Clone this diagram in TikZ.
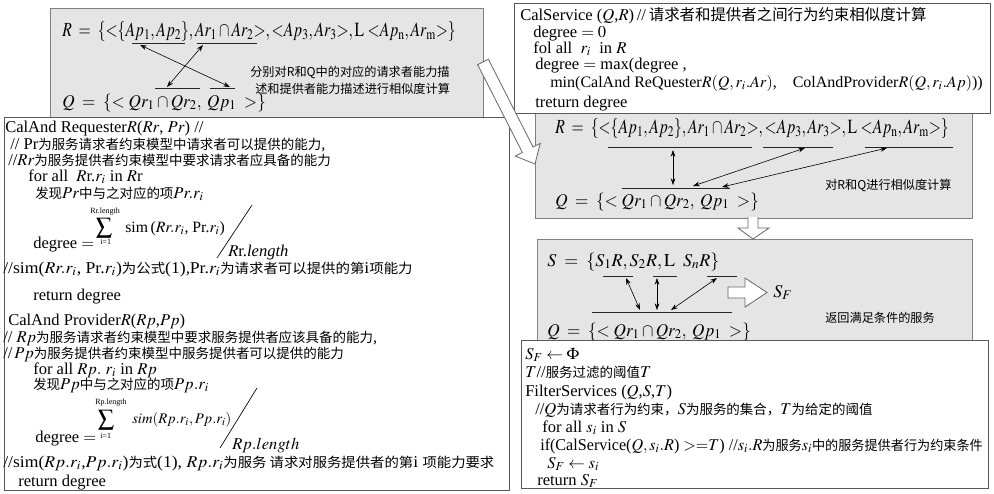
\documentclass[tikz,border=0pt]{standalone}
\usepackage{graphicx}
\usepackage{mathptmx}
\usepackage{fontspec}
\setmainfont{Liberation Serif}
\newfontfamily\cjk[Scale=0.815]{Noto Sans CJK SC}
\usetikzlibrary{arrows.meta,calc}
\newcommand\zh[1]{{\cjk #1}}
\newcommand\Rform{{\fontsize{15}{17}\selectfont\scalebox{0.78}[1]{$R\;=\;\{{<}\{Ap_1,Ap_2\},Ar_1\cap Ar_2{>},{<}Ap_3,Ar_3{>},\mathrm{L}\;{<}Ap_{\mathrm n},Ar_{\mathrm m}{>}\}$}}}
\newcommand\Qform{\scalebox{0.95}[1]{$Q\;=\;\{{<}\;Qr_1\cap Qr_2,\;Qp_1\;\;{>}\}$}}
\begin{document}
\begin{tikzpicture}[x=0.75pt,y=-0.75pt,
  graybox/.style={draw=black!50, fill=black!10, line width=0.6pt},
  whitebox/.style={draw=black!65, fill=white, line width=0.6pt},
  ln/.style={anchor=base west, inner sep=0pt, font=\fontsize{12.4}{14}\selectfont},
  fm/.style={anchor=base west, inner sep=0pt, font=\fontsize{13.5}{16}\selectfont},
  nt/.style={anchor=base west, inner sep=0pt, font=\fontsize{11.2}{13}\selectfont\cjk},
  tinyt/.style={anchor=base west, inner sep=0pt, font=\fontsize{6}{7}\selectfont},
  sumt/.style={anchor=center, inner sep=0pt, font=\fontsize{12}{13}\selectfont},
  ul/.style={line width=0.5pt, draw=black!85},
  dbl/.style={{Stealth[length=5pt,width=3.5pt]}-{Stealth[length=5pt,width=3.5pt]}, line width=0.45pt},
  hollow/.style={draw=black!60, fill=white, line width=0.6pt, line join=miter}]
\useasboundingbox (0,0) rectangle (994,493);

% ---------- top-left gray box ----------
\draw[graybox] (50,8) rectangle (483,118);
\node[fm] (r1) at (62,36) {\Rform};
\node[fm] (q1) at (62,107) {\Qform};
\node[nt] (n1a) at (250,76) {分别对R和Q中的对应的请求者能力描};
\node[nt] (n1b) at (255,93) {述和提供者能力描述进行相似度计算};
\draw[ul] (132,43) -- (185,43);
\draw[ul] (197,43) -- (257,43);
\draw[ul] (155,88) -- (200,88);
\draw[ul] (210,88) -- (235,88);
\coordinate (u1a) at (140,45); \coordinate (u1b) at (230,87);
\coordinate (u2a) at (203,45); \coordinate (u2b) at (167,87);
\draw[dbl] (u1a) -- (u1b);
\draw[dbl] (u2a) -- (u2b);

% ---------- right gray box 2 ----------
\draw[graybox] (535,113) rectangle (972,218);
% ---------- CalService box ----------
\draw[whitebox] (514,3) rectangle (990,113);
\node[ln] (c1) at (520,20) {CalService\ ($Q$,$R$)\,//\,{\fontsize{14.2}{16}\selectfont\zh{请求者和提供者之间行为约束相似度计算}}};
\node[ln] (c2) at (533,37) {degree $=0$};
\node[ln] (c3) at (533,53) {fol all \ $r_i$ \ in $R$};
\node[ln] (c4) at (535,69) {degree $=$ max(degree ,};
\node[ln, font=\fontsize{12}{14}\selectfont] (c5) at (550,87) {min(CalAnd ReQuester$R(Q,r_i.Ar)$,\quad ColAndProvider$R(Q,r_i.Ap)$))};
\node[ln] (c6) at (535,107) {treturn degree};

\node[fm] (r2) at (555,133) {\Rform};
\node[fm] (q2) at (555,206) {\Qform};
\node[nt] (n2) at (825,189) {对R和Q进行相似度计算};
\draw[ul] (608,147) -- (752,147);
\draw[ul] (763,147) -- (833,147);
\draw[ul] (865,147) -- (953,147);
\draw[ul] (622,188) -- (730,188);
\coordinate (v1a) at (673,150); \coordinate (v1b) at (673,185);
\coordinate (v2a) at (805,148); \coordinate (v2b) at (693,186);
\coordinate (v3a) at (887,148); \coordinate (v3b) at (722,187);
\draw[dbl] (v1a) -- (v1b);
\draw[dbl] (v2a) -- (v2b);
\draw[dbl] (v3a) -- (v3b);

% down hollow arrow
\draw[hollow] (748,217) -- (748,228) -- (738,228) -- (753,239) -- (769,228) -- (758,228) -- (758,217);

% ---------- gray box 3 ----------
\draw[graybox] (537,239) rectangle (972,345);
\node[fm] (s3) at (547,266) {$S\;=\;\{S_1R,S_2R,\mathrm{L}\;\;S_nR\}$};
\node[fm] (q3) at (547,336) {\Qform};
\node[nt] (n3) at (825,322) {返回满足条件的服务};
\draw[ul] (603,276) -- (633,276);
\draw[ul] (653,276) -- (677,276);
\draw[ul] (707,276) -- (737,276);
\draw[ul] (592,312) -- (732,312);
\coordinate (w1a) at (626,278); \coordinate (w1b) at (640,310);
\coordinate (w2a) at (657,278); \coordinate (w2b) at (657,310);
\coordinate (w3a) at (717,278); \coordinate (w3b) at (671,310);
\draw[dbl] (w1a) -- (w1b);
\draw[dbl] (w2a) -- (w2b);
\draw[dbl] (w3a) -- (w3b);
\draw[hollow] (728,287) -- (745,287) -- (745,278) -- (767,292.5) -- (745,307) -- (745,298) -- (728,298) -- cycle;
\node[fm] (sf) at (773,297) {$S_F$};

% ---------- FilterServices box ----------
\draw[whitebox] (521,340) rectangle (988,488);
\node[ln] (f1) at (525,359) {$S_F\leftarrow\Phi$};
\node[ln] (f2) at (525,377) {$T$//\zh{服务过滤的阈值}$T$};
\node[ln] (f3) at (525,396) {FilterServices ($Q$,$S$,$T$)};
\node[ln] (f4) at (535,414) {//$Q$\zh{为请求者行为约束，}$S$\zh{为服务的集合，}$T$\zh{为给定的阈值}};
\node[ln] (f5) at (542,432) {for all $s_i$ in $S$};
\node[ln] (f6) at (540,450) {\scalebox{0.975}[1]{if(CalService($Q,s_i.R$) ${>}{=}T$) //$s_i.R$\zh{为服务}$s_i$\zh{中的服务提供者行为约束条件}}};
\node[ln] (f7) at (547,468) {$S_F\leftarrow s_i$};
\node[ln] (f8) at (537,485) {return $S_F$};

% ---------- left white box ----------
\draw[whitebox] (4,117) rectangle (509,490);
\node[ln] (l1) at (5,132) {CalAnd Requester$R$($Rr$, $Pr$) //};
\node[ln] (l2) at (10,149) {// Pr\zh{为服务请求者约束模型中请求者可以提供的能力,}};
\node[ln] (l3) at (8,165) {//$Rr$\zh{为服务提供者约束模型中要求请求者应具备的能力}};
\node[ln] (l4) at (28,181) {for all \ $R$r.$r_i$ in $R$r};
\node[ln] (l5) at (35,198) {\zh{发现}$Pr$\zh{中与之对应的项}$Pr.r_i$};
\node[tinyt] (l6a) at (90,213) {Rr.length};
\node[sumt] (l6b) at (104,228) {$\displaystyle\sum$};
\node[tinyt] (l6c) at (100,244) {i=1};
\node[ln, font=\fontsize{11.8}{14}\selectfont] (l6d) at (125,232) {sim\,($Rr.r_i$, Pr.$r_i$)};
\node[ln] (l6e) at (33,248) {degree $=$};
\coordinate (sl1a) at (252,205); \coordinate (sl1b) at (217,258);
\draw[line width=0.5pt] (sl1a) -- (sl1b);
\node[ln] (l6f) at (228,256) {$R$r.\textit{length}};
\node[ln] (l7) at (3,273) {\scalebox{1.07}[1]{//sim($Rr.r_i$, Pr.$r_i$)\zh{为公式}(1)\zh{,}Pr.$r_i$\zh{为请求者可以提供的第}i\zh{项能力}}};
\node[ln] (l8) at (33,300) {return degree};
\node[ln] (p1) at (8,325) {CalAnd Provider$R$($Rp$,$Pp$)};
\node[ln] (p2) at (3,342) {// $Rp$\zh{为服务请求者约束模型中要求服务提供者应该具备的能力,}};
\node[ln] (p3) at (3,358) {//$\,Pp$\zh{为服务提供者约束模型中服务提供者可以提供的能力}};
\node[ln] (p4) at (33,374) {for all $Rp.\ r_i$ in $Rp$};
\node[ln] (p5) at (33,389) {\zh{发现}$Pp$\zh{中与之对应的项}$Pp.r_i$};
\node[tinyt] (p6a) at (95,404) {Rp.length};
\node[sumt] (p6b) at (106,420) {$\displaystyle\sum$};
\node[tinyt] (p6c) at (100,438) {i=1};
\node[ln, font=\fontsize{11}{13}\selectfont] (p6d) at (132,423) {$sim(Rp.r_i,Pp.r_i)$};
\node[ln] (p6e) at (35,442) {degree $=$};
\coordinate (sl2a) at (257,388); \coordinate (sl2b) at (220,448);
\draw[line width=0.5pt] (sl2a) -- (sl2b);
\node[ln] (p6f) at (232,449) {$Rp.length$};
\node[ln] (p7) at (3,467) {\scalebox{1.065}[1]{//sim($Rp.r_i$,$Pp.r_i$)\zh{为式}(1), $Rp.r_i$\zh{为服务 请求对服务提供者的第}i \zh{项能力要求}}};
\node[ln] (p8) at (18,486) {return degree};

% ---------- big hollow arrow ----------
\coordinate (bt) at (483,62);
\coordinate (bh) at (535,164);
\coordinate (bb) at ($(bt)!0.86!(bh)$);
\draw[hollow] ($(bt)!4.5pt!90:(bh)$) -- ($(bb)!4.5pt!90:(bh)$) -- ($(bb)!10.5pt!90:(bh)$) -- (bh)
  -- ($(bb)!10.5pt!-90:(bh)$) -- ($(bb)!4.5pt!-90:(bh)$) -- ($(bt)!4.5pt!-90:(bh)$) -- cycle;
\end{tikzpicture}
\end{document}
